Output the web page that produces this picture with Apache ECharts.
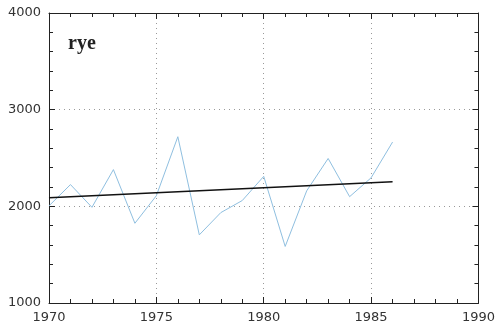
<!DOCTYPE html>
<html>
<head>
<meta charset="utf-8">
<script src="https://cdn.jsdelivr.net/npm/echarts@6/dist/echarts.min.js"></script>
<style>
html,body{margin:0;padding:0;background:#fff;}
#chart{width:498px;height:329px;}
</style>
</head>
<body>
<div id="chart"></div>
<script>
var years = [1970,1971,1972,1973,1974,1975,1976,1977,1978,1979,1980,1981,1982,1983,1984,1985,1986];
var rye = [2005,2225,1990,2380,1825,2110,2720,1705,1935,2060,2310,1585,2160,2495,2100,2295,2665];
var trendYears = [1970,1986];
var trendValues = [2090,2255];
var xTicks = [1970,1975,1980,1985,1990];
var yTicks = [1000,2000,3000,4000];

var myChart = echarts.init(document.getElementById('chart'));
var txt = '#333';
var font = 'DejaVu Sans';

function plain(v){ return String(v); }

function xAx(pos, showLabel){
    return {
        type:'value', position:pos, min:xTicks[0], max:xTicks[xTicks.length-1], interval:5,
        axisLine:{show:true, onZero:false, lineStyle:{color:'#222', width:1}},
        axisTick:{show:true, inside:true, length:6, lineStyle:{color:'#222'}},
        minorTick:{show:true, splitNumber:5, length:4, lineStyle:{color:'#222'}},
        axisLabel:{show:showLabel, color:txt, fontFamily:font, fontSize:13, margin:8, formatter:plain},
        splitLine:{show:showLabel, lineStyle:{color:'#999', type:[1,4]}}
    };
}
function yAx(pos, showLabel){
    return {
        type:'value', position:pos, min:yTicks[0], max:yTicks[yTicks.length-1], interval:1000,
        axisLine:{show:true, onZero:false, lineStyle:{color:'#222', width:1}},
        axisTick:{show:true, inside:true, length:6, lineStyle:{color:'#222'}},
        minorTick:{show:true, splitNumber:5, length:4, lineStyle:{color:'#222'}},
        axisLabel:{show:showLabel, color:txt, fontFamily:font, fontSize:13, margin:8, formatter:plain},
        splitLine:{show:showLabel, lineStyle:{color:'#999', type:[1,4]}}
    };
}

var option = {
    animation:false,
    backgroundColor:'#fff',
    grid:{left:49, right:17, top:13, bottom:26},
    graphic:[{
        type:'text', left:68, top:34,
        style:{text:'rye', font:'bold 20px "Liberation Serif"', fill:'#222'}
    }],
    xAxis:[xAx('bottom', true), xAx('top', false)],
    yAxis:[yAx('left', true), yAx('right', false)],
    series:[
        {
            type:'line', data:years.map(function(y,i){return [y, rye[i]];}),
            showSymbol:false, lineStyle:{color:'#8fbfe0', width:1}, z:3
        },
        {
            type:'line', data:trendYears.map(function(y,i){return [y, trendValues[i]];}),
            showSymbol:false, lineStyle:{color:'#111', width:1.5}, z:4
        }
    ]
};
myChart.setOption(option);
</script>
</body>
</html>
